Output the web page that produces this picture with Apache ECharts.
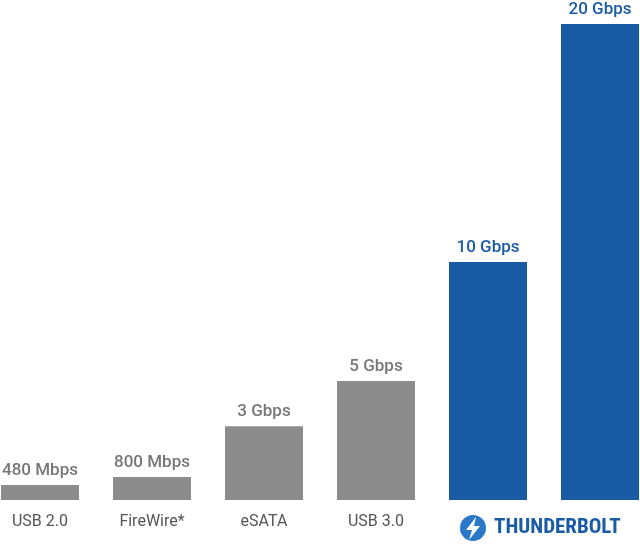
<!DOCTYPE html>
<html><head><meta charset="utf-8">
<script src="https://cdn.jsdelivr.net/npm/echarts@6/dist/echarts.min.js"></script>
<style>html,body{margin:0;background:#fff;overflow:hidden}#c{width:672px;height:548px;margin-left:-16px}</style>
</head><body><div id="c"></div>
<script>
const categories = ['USB 2.0','FireWire*','eSATA','USB 3.0','TB1','TB2'];
const axisLabels = ['USB 2.0','FireWire*','eSATA','USB 3.0','',''];
const values = [0.63, 0.97, 3.1, 5, 10, 20];
const valueLabels = ['480 Mbps','800 Mbps','3 Gbps','5 Gbps','10 Gbps','20 Gbps'];
const isThunderbolt = [false,false,false,false,true,true];
const GRAY='#8c8c8c', BLUE='#1a5ba6';
const OX=16;
const chart = echarts.init(document.getElementById('c'));
chart.setOption({
  animation:false,
  grid:{left:0,right:0,top:24,bottom:48},
  xAxis:{type:'category',data:categories,axisLine:{show:false},axisTick:{show:false},
    axisLabel:{formatter:(v,i)=>axisLabels[i],color:'#555',fontSize:16,fontFamily:'Roboto',margin:14}},
  yAxis:{type:'value',min:0,max:20,show:false,splitLine:{show:false}},
  series:[{type:'bar',barWidth:78,
    data:values.map((v,i)=>({value:v,itemStyle:{color:isThunderbolt[i]?BLUE:GRAY},
      label:{color:isThunderbolt[i]?BLUE:'#777'}})),
    label:{show:true,position:'top',distance:6,fontSize:17,fontFamily:'Roboto',fontWeight:500,
      formatter:p=>valueLabels[p.dataIndex]}}],
  graphic:[
    {type:'circle',shape:{cx:473+OX,cy:528,r:13},style:{fill:'#2a78c8'}},
    {type:'polygon',shape:{points:[[476+OX,517],[466+OX,530],[472+OX,530],[469+OX,540],[480+OX,526],[474+OX,526]]},style:{fill:'#fff'}},
    {type:'text',left:494+OX,top:517,style:{text:'THUNDERBOLT',fill:BLUE,font:'bold 21px "Roboto Condensed", "Liberation Sans Narrow", "Roboto"'}}
  ]
});
</script></body></html>
